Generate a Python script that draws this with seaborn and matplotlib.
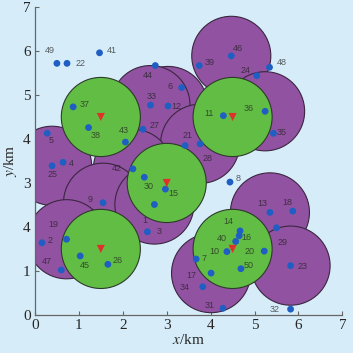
import numpy as np
import pandas as pd
import seaborn as sns
import matplotlib.pyplot as plt
from matplotlib.patches import Circle

# user positions (km), user number = index + 1
user_x = [2.72, 0.16, 2.56, 0.64, 0.28, 3.34, 3.67, 4.44, 1.55, 4.37,
          4.29, 3.03, 5.35, 4.67, 2.97, 4.65, 4.01, 5.87, 0.72, 5.22,
          3.42, 0.73, 5.82, 5.05, 0.39, 1.66, 2.46, 3.76, 5.50, 2.49,
          4.28, 5.82, 2.63, 3.82, 5.43, 5.24, 0.87, 1.22, 3.74, 4.57,
          1.47, 2.23, 2.06, 2.74, 1.03, 4.47, 0.60, 5.34, 0.50, 4.69]
user_y = [2.51, 1.64, 1.89, 3.47, 4.13, 5.17, 1.27, 3.02, 2.55, 1.44,
          4.53, 4.75, 2.33, 1.91, 2.86, 1.80, 0.95, 2.36, 1.72, 1.45,
          3.85, 5.72, 1.12, 5.44, 3.39, 1.15, 4.22, 3.89, 1.98, 3.13,
          0.15, 0.13, 4.77, 0.64, 4.13, 4.63, 4.73, 4.26, 5.67, 1.67,
          5.96, 3.32, 3.93, 5.67, 1.34, 5.89, 1.02, 5.63, 5.72, 1.05]

# UAV positions (red triangles, green discs)
uav_x = [1.5, 4.5, 3.0, 1.5, 4.5]
uav_y = [4.5, 4.5, 3.0, 1.5, 1.5]

# users that carry a purple coverage disc (in drawing order)
centre_users = [46, 36, 12, 33, 28, 25, 42, 9, 19, 1, 13, 23, 17]
cover_r = 0.9

x_ticks = [0, 1, 2, 3, 4, 5, 6, 7]
y_tick_labels = ['0', '1', '4', '3', '4', '5', '6', '7']

# label offsets in pixels (dx right, dy down) relative to each dot
label_off = {
    1: (-10, 16), 2: (8, -2), 3: (12, 0), 4: (8, 1), 5: (4, 7),
    6: (-12, -1), 7: (8, -1), 8: (8, -4), 9: (-13, -3), 10: (-13, 0),
    11: (-14, -2), 12: (8, 0), 13: (-8, -9), 14: (-12, -9), 15: (8, 4),
    16: (7, 2), 17: (-20, 2), 18: (-5, -9), 19: (-13, -15), 20: (-15, 0),
    21: (2, -10), 22: (14, 0), 23: (12, 1), 24: (-11, -5), 25: (0, 9),
    26: (10, -4), 27: (12, -4), 28: (7, 15), 29: (6, 15), 30: (4, 9),
    31: (-13, -3), 32: (-16, 0), 33: (1, -9), 34: (-18, 1), 35: (8, -1),
    36: (-16, -3), 37: (11, -2), 38: (7, 8), 39: (10, -3), 40: (-14, -3),
    41: (12, -2), 42: (-16, 0), 43: (-2, -12), 44: (-7, 10), 45: (5, 10),
    46: (7, -7), 47: (-14, -9), 48: (12, -5), 49: (-7, -13), 50: (8, -3),
}

bg = '#d6edf9'
purple = '#9152a1'
green = '#62bd45'
blue = '#1f5ec2'
red = '#e0302a'

users = pd.DataFrame({'id': range(1, len(user_x) + 1), 'x': user_x, 'y': user_y})
uavs = pd.DataFrame({'x': uav_x, 'y': uav_y})

sns.set_style('ticks')
plt.rcParams['font.family'] = ['Liberation Serif', 'DejaVu Serif']
plt.rcParams['mathtext.fontset'] = 'stix'

fig = plt.figure(figsize=(3.53, 3.53), dpi=100, facecolor=bg)
ax = fig.add_axes([0.099, 0.108, 0.871, 0.872])
ax.set_facecolor(bg)

for uid in centre_users:
    ax.add_patch(Circle((user_x[uid - 1], user_y[uid - 1]), cover_r,
                        fc=purple, ec='#3b2640', lw=0.8, zorder=1))
for x, y in zip(uav_x, uav_y):
    ax.add_patch(Circle((x, y), cover_r, fc=green, ec='#2e3a2a', lw=0.8, zorder=2))

sns.scatterplot(data=users, x='x', y='y', color=blue, s=24, edgecolor='none',
                ax=ax, zorder=3, legend=False)
sns.scatterplot(data=uavs, x='x', y='y', color=red, marker='v', s=34,
                edgecolor='none', ax=ax, zorder=4, legend=False)

for uid, x, y in zip(users['id'], users['x'], users['y']):
    dx, dy = label_off[uid]
    ax.annotate(str(uid), (x, y), xytext=(dx, -dy), textcoords='offset pixels',
                ha='center', va='center', fontsize=6.5, color='#1e1e1e', alpha=0.7,
                family='Liberation Sans', zorder=5)

ax.set_xlim(0, 7)
ax.set_ylim(0, 7)
ax.set_xticks(x_ticks)
ax.set_yticks(x_ticks)
ax.set_yticklabels(y_tick_labels)
ax.tick_params(direction='in', length=3, width=0.8, color='#666666',
               labelsize=11, pad=3)
for side in ['top', 'right']:
    ax.spines[side].set_visible(False)
for side in ['left', 'bottom']:
    ax.spines[side].set_color('#666666')
    ax.spines[side].set_linewidth(0.9)

ax.set_xlabel(r'$x$/km', fontsize=11, labelpad=1)
ax.set_ylabel(r'$y$/km', fontsize=11, labelpad=3)

fig.savefig('out.png', dpi=100, facecolor=bg)
